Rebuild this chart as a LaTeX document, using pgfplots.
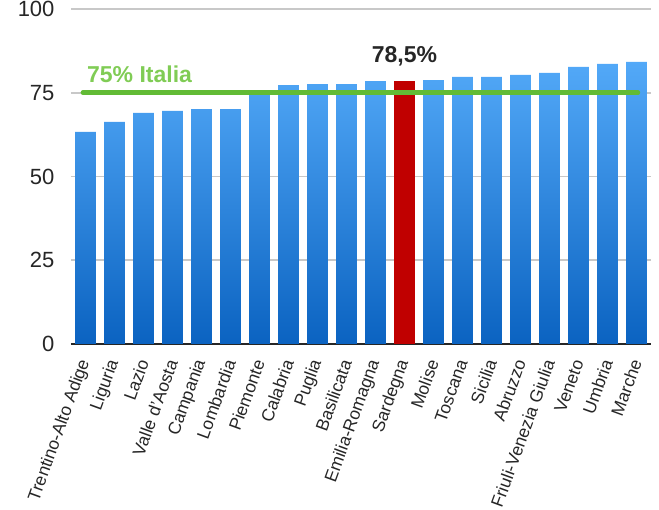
\documentclass[border=0pt]{standalone}
\usepackage{pgfplots}
\pgfplotsset{compat=1.18}
\usetikzlibrary{calc}
\usepackage{fontspec}
\setmainfont{Liberation Sans}
\definecolor{txt}{HTML}{262626}
\definecolor{gridc}{HTML}{C8C8C8}
\definecolor{btop}{HTML}{53A9F8}
\definecolor{bbot}{HTML}{0B63C1}
\definecolor{redbar}{HTML}{C00000}
\definecolor{gline}{HTML}{62BB35}
\definecolor{gtext}{HTML}{80CC55}
\begin{document}
\begin{tikzpicture}
\begin{axis}[
  name=ax,
  scale only axis,
  width=580pt, height=335pt,
  xmin=-0.5, xmax=19.5,
  ymin=0, ymax=100,
  ytick={0,25,50,75,100},
  xtick={0,...,19},
  xticklabels={Trentino-Alto Adige,Liguria,Lazio,Valle d'Aosta,Campania,Lombardia,Piemonte,Calabria,Puglia,Basilicata,Emilia-Romagna,Sardegna,Molise,Toscana,Sicilia,Abruzzo,Friuli-Venezia Giulia,Veneto,Umbria,Marche},
  /pgf/number format/assume math mode=true,
  major tick length=0pt,
  ymajorgrids,
  grid style={gridc, line width=1.6pt},
  axis lines*=left,
  y axis line style={draw=none},
  x axis line style={txt, line width=2pt, -},
  yticklabel style={font=\fontsize{22}{24}\selectfont, text=txt, xshift=-13pt},
  xticklabel style={font=\fontsize{17.5}{19}\selectfont, text=txt, xshift=1pt, yshift=-13pt, rotate=70, anchor=east},
  ybar, bar width=0.72, bar shift=0pt,
  clip=false,
]
\addplot[draw=none, top color=btop, bottom color=bbot] coordinates {
(0,63.3) (1,66.3) (2,69.0) (3,69.6) (4,70.1) (5,70.1) (6,75.3) (7,77.3) (8,77.6) (9,77.6) (10,78.5)
(12,78.8) (13,79.7) (14,79.7) (15,80.3) (16,80.9) (17,82.7) (18,83.6) (19,84.2)};
\addplot[draw=none, fill=redbar] coordinates {(11,78.5)};
\addplot[sharp plot, gline, line width=4.5pt, line cap=round] coordinates {(-0.09,75) (19.05,75)};
\node[anchor=base west, inner sep=0pt, text=gtext, font=\fontsize{23}{25}\selectfont\bfseries] at (axis cs:0.05,78.2) {75\% Italia};
\node[anchor=base, inner sep=0pt, text=txt, font=\fontsize{23}{25}\selectfont\bfseries] at (axis cs:11,83.9) {78,5\%};
\end{axis}
\pgfresetboundingbox
\path (ax.south west) ++(-71pt,-166pt) rectangle ($(ax.north east)+(8pt,9pt)$);
\end{tikzpicture}
\end{document}
